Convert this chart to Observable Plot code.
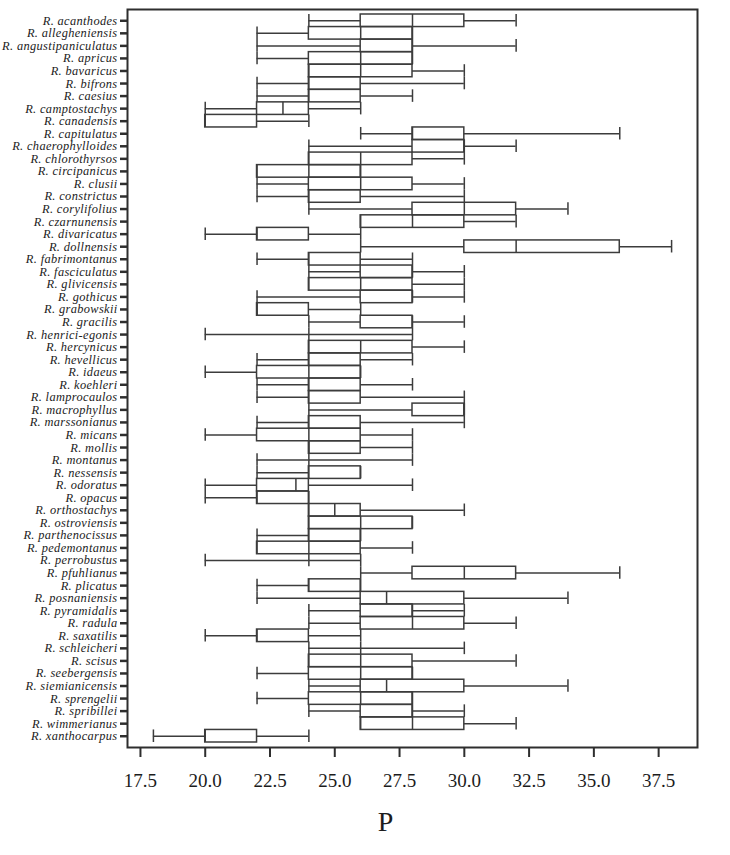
<!DOCTYPE html>
<html><head><meta charset="utf-8">
<script src="https://cdn.jsdelivr.net/npm/d3@7"></script>
<script src="https://cdn.jsdelivr.net/npm/@observablehq/plot@0.6"></script>
<style>
body{margin:0;background:#fff;}
#chart{width:730px;height:855px;}
#chart g[aria-label="y-axis tick label"] text{letter-spacing:0.35px;}
</style>
</head><body><div id="chart"></div>
<script>
const species = ["R. acanthodes","R. allegheniensis","R. angustipaniculatus","R. apricus","R. bavaricus","R. bifrons","R. caesius","R. camptostachys","R. canadensis","R. capitulatus","R. chaerophylloides","R. chlorothyrsos","R. circipanicus","R. clusii","R. constrictus","R. corylifolius","R. czarnunensis","R. divaricatus","R. dollnensis","R. fabrimontanus","R. fasciculatus","R. glivicensis","R. gothicus","R. grabowskii","R. gracilis","R. henrici-egonis","R. hercynicus","R. hevellicus","R. idaeus","R. koehleri","R. lamprocaulos","R. macrophyllus","R. marssonianus","R. micans","R. mollis","R. montanus","R. nessensis","R. odoratus","R. opacus","R. orthostachys","R. ostroviensis","R. parthenocissus","R. pedemontanus","R. perrobustus","R. pfuhlianus","R. plicatus","R. posnaniensis","R. pyramidalis","R. radula","R. saxatilis","R. schleicheri","R. scisus","R. seebergensis","R. siemianicensis","R. sprengelii","R. spribillei","R. wimmerianus","R. xanthocarpus"];
const minV = [24,22,22,22,24,22,22,20,20,26,24,24,22,22,22,24,26,20,26,22,24,24,22,22,24,20,24,22,20,22,22,24,22,20,24,22,22,20,20,24,24,22,22,20,26,22,22,24,24,20,24,24,22,24,22,24,26,18];
const q1V  = [26,24,26,24,24,24,24,22,20,28,28,24,22,24,24,28,26,22,30,24,26,24,26,22,26,24,24,24,22,24,24,28,24,22,24,24,24,22,22,24,24,24,22,24,28,24,26,26,26,22,26,24,24,26,24,26,26,20];
const medV = [28,26,28,26,26,24,24,23,20,28,30,26,24,26,24,30,28,22,32,24,28,26,28,22,28,24,26,24,24,24,24,30,24,24,24,24,24,23.5,22,25,26,24,24,24,30,24,27,28,28,22,26,26,26,27,26,28,28,20];
const q3V  = [30,28,28,28,28,26,26,24,22,30,30,28,26,28,26,32,30,24,36,26,28,28,28,24,28,24,28,26,26,26,26,30,26,26,26,24,26,24,24,26,28,26,26,24,32,26,30,28,30,24,26,28,28,30,28,28,30,22];
const maxV = [32,28,32,28,30,30,28,26,24,36,32,30,26,30,30,34,32,26,38,28,30,30,30,26,30,28,30,28,26,28,30,30,30,28,28,28,26,28,24,30,28,26,28,26,36,26,34,30,32,26,30,32,28,34,28,30,32,24];
const xTicks = [17.5,20,22.5,25,27.5,30,32.5,35,37.5];
const xTitle = "P";

const rows = species.map((s,i)=>({s, min:minV[i], q1:q1V[i], med:medV[i], q3:q3V[i], max:maxV[i]}));
const stroke = "#3c3c3c";
const sw = 1.5;
const chart = Plot.plot({
  width:730, height:855, marginLeft:127, marginRight:33, marginTop:9, marginBottom:108,
  style:{fontFamily:"'Liberation Serif', 'Times New Roman', serif", background:"#fff", color:"#1c1c1c"},
  x:{domain:[17,39]},
  y:{type:"band", domain:species, padding:0, insetTop:5, insetBottom:5},
  marks:[
    Plot.ruleY(rows.filter(d=>d.min<d.q1), {y:"s", x1:"min", x2:"q1", stroke, strokeWidth:sw}),
    Plot.ruleY(rows.filter(d=>d.max>d.q3), {y:"s", x1:"q3", x2:"max", stroke, strokeWidth:sw}),
    Plot.tickX(rows, {x:"min", y:"s", stroke, strokeWidth:sw}),
    Plot.tickX(rows, {x:"max", y:"s", stroke, strokeWidth:sw}),
    Plot.barX(rows.filter(d=>d.q3>d.q1), {x1:"q1", x2:"q3", y:"s", fill:"none", stroke, strokeWidth:sw}),
    Plot.tickX(rows, {x:"med", y:"s", stroke, strokeWidth:sw}),
    Plot.frame({stroke:"#2e2e2e", strokeWidth:2}),
    Plot.axisX({ticks:xTicks, tickFormat:d3.format(".1f"), tickSize:10, tickPadding:16, fontSize:19, strokeWidth:2, stroke:"#2e2e2e", label:null}),
    Plot.axisY({tickSize:7, tickPadding:3, fontSize:12.4, fontStyle:"italic", strokeWidth:2.5, stroke:"#2e2e2e", label:null}),
    Plot.text([xTitle], {frameAnchor:"bottom", dx:-27, dy:83, fontSize:28, fill:"#1c1c1c"})
  ]
});
document.getElementById("chart").appendChild(chart);
</script>
</body></html>
